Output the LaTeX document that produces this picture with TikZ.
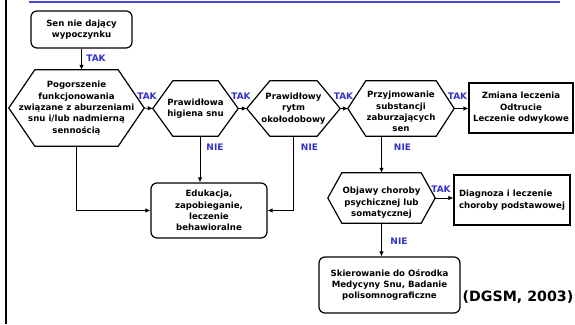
\documentclass[tikz,border=0pt]{standalone}
\usepackage{fontspec}
\setmainfont{DejaVu Sans}
\usetikzlibrary{arrows.meta,calc}
\definecolor{labelblue}{RGB}{51,51,204}
\definecolor{ruleblue}{RGB}{70,70,215}

% hexagonal outline around an (empty) frame node: #1 node name, #2 corner inset
\newcommand\hexoutline[2]{%
  \draw[outline] ([xshift=#2]#1.north west) -- ([xshift=-#2]#1.north east)
    -- (#1.east) -- ([xshift=-#2]#1.south east)
    -- ([xshift=#2]#1.south west) -- (#1.west) -- cycle;}

\begin{document}
\begin{tikzpicture}[x=1pt,y=-1pt,
  txt/.style={font=\bfseries\fontsize{8.6}{11.4}\selectfont, align=center, inner sep=0pt},
  frame/.style 2 args={inner sep=0pt, minimum width=#1, minimum height=#2},
  box/.style 2 args={txt, draw, line width=1.2pt, minimum width=#1, minimum height=#2},
  rbox/.style 2 args={box={#1}{#2}, rounded corners=6pt},
  outline/.style={line width=1.2pt, line join=miter},
  conn/.style={line width=0.8pt},
  arr/.style={conn, -{Latex[length=5pt,width=4.5pt]}},
  yes/.style={font=\bfseries\fontsize{9}{10}\selectfont, text=labelblue, inner sep=0pt},
]
\useasboundingbox (0,0) rectangle (575,324);

% page decoration
\draw[line width=2.5pt] (6,0) -- (6,324);
\draw[ruleblue, line width=1.5pt] (29,2) -- (560,2);

% boxes
\node[rbox={101}{37}] (start) at (81.5,29.5) {Sen nie dający\\wypoczynku};
\node[rbox={116}{55}] (edu) at (209,210.5) {Edukacja,\\zapobieganie,\\leczenie\\behawioralne};
\node[box={104}{50}] (cure) at (521,108) {Zmiana leczenia\\Odtrucie\\Leczenie odwykowe};
\node[box={116}{50}, align=left] (diag) at (512,200) {Diagnoza i leczenie\\choroby podstawowej};
\node[rbox={141}{56}] (refer) at (389.5,285) {Skierowanie do Ośrodka\\Medycyny Snu, Badanie\\polisomnograficzne};

% decision hexagons
\node[frame={135}{76}] (h1) at (76.5,108) {};
\hexoutline{h1}{26pt}
\node[txt] (h1-text) at (h1.center) {Pogorszenie\\funkcjonowania\\związane z aburzeniami\\snu i/lub nadmierną\\sennością};

\node[frame={85}{55}] (h2) at (195.5,108.5) {};
\hexoutline{h2}{20pt}
\node[txt] (h2-text) at (h2.center) {Prawidłowa\\higiena snu};

\node[frame={93}{55}] (h3) at (293.5,108.5) {};
\hexoutline{h3}{23pt}
\node[txt] (h3-text) at (h3.center) {Prawidłowy\\rytm\\okołodobowy};

\node[frame={106}{55}] (h4) at (401,108.5) {};
\hexoutline{h4}{18pt}
\node[txt] (h4-text) at ([yshift=-3pt]h4.center) {Przyjmowanie\\substancji\\zaburzających\\sen};

\node[frame={107}{50}] (h5) at (381.5,198) {};
\hexoutline{h5}{14pt}
\node[txt] (h5-text) at ([yshift=-5pt]h5.center) {Objawy choroby\\psychicznej lub\\somatycznej};

% connectors
\draw[arr] (start.south) -- (start.south |- h1.north);
\draw[arr] (h1.east) -- (h2.west);
\draw[arr] (h2.east) -- (h3.west);
\draw[arr] (h3.east) -- (h4.west);
\draw[arr] (h4.east) -- (h4.east -| cure.west);
\draw[arr] ([xshift=4.5pt]h2.south) -- ([xshift=4.5pt]h2.south |- edu.north);
\draw[arr] (h1.south) |- (edu.west);
\draw[arr] (h3.south) |- (edu.east);
\draw[arr] (h4.south -| h5.north) -- (h5.north);
\draw[arr] (h5.east) -- (h5.east -| diag.west);
\draw[arr] (h5.south) -- (h5.south |- refer.north);

% answer labels
\node[yes] (y1) at (96,58) {TAK};
\node[yes] (y2) at (147,96) {TAK};
\node[yes] (y3) at (241,96) {TAK};
\node[yes] (y4) at (343.5,96) {TAK};
\node[yes] (y5) at (457.5,96) {TAK};
\node[yes] (y6) at (441,189) {TAK};
\node[yes] (n1) at (215,147) {NIE};
\node[yes] (n2) at (309.5,147) {NIE};
\node[yes] (n3) at (402.5,147) {NIE};
\node[yes] (n4) at (399,241) {NIE};

% source
\node[font=\bfseries\fontsize{14.2}{16}\selectfont, inner sep=0pt] (src) at (518,297) {(DGSM, 2003)};
\end{tikzpicture}
\end{document}
